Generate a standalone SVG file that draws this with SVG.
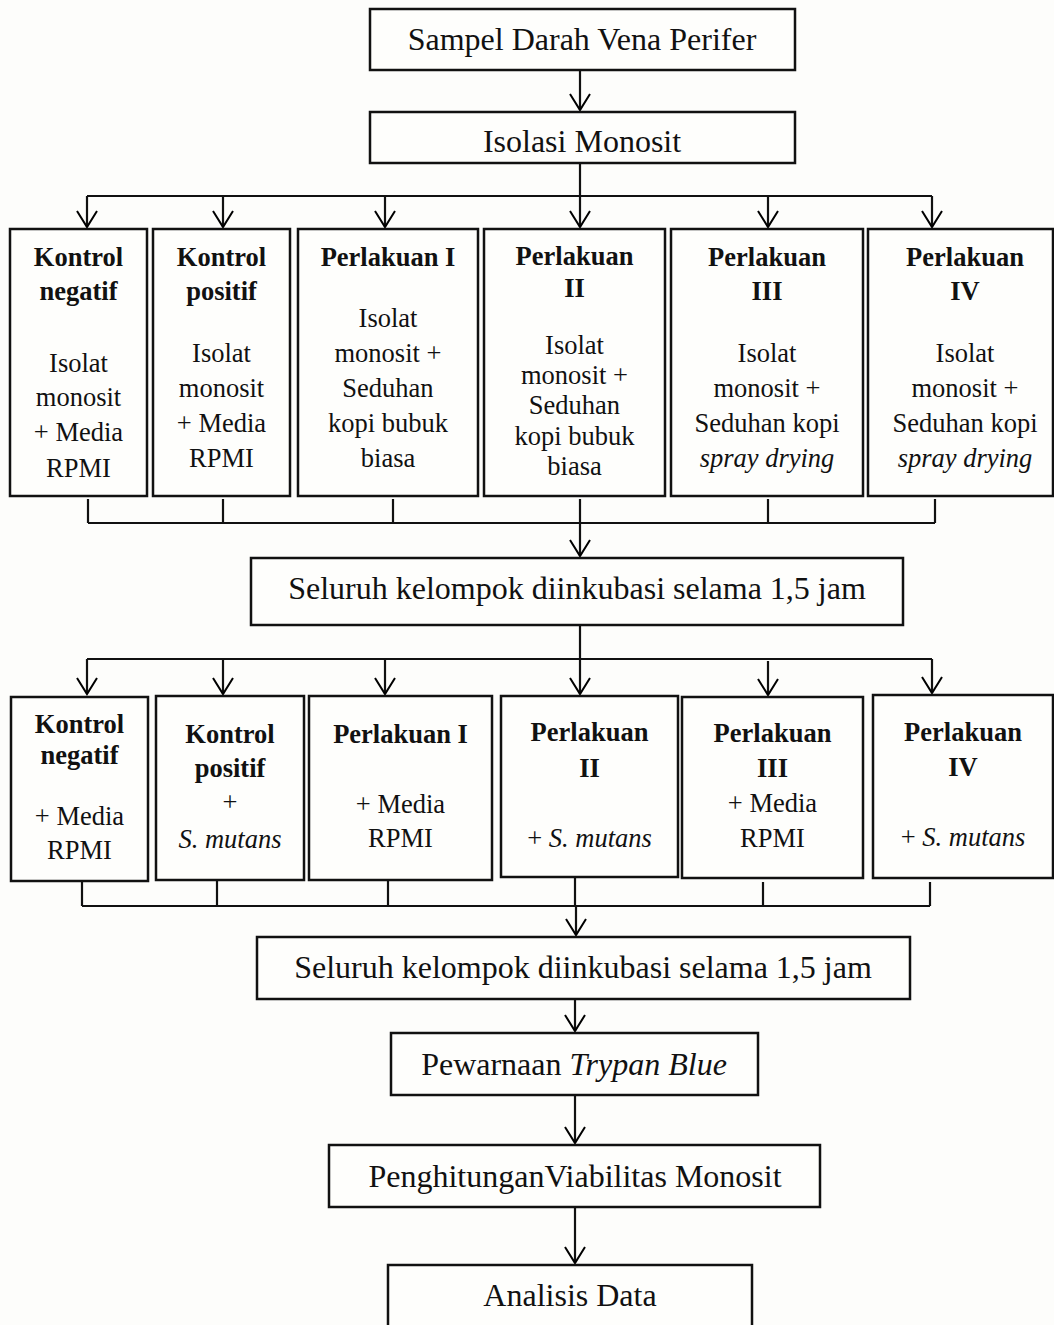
<svg xmlns="http://www.w3.org/2000/svg" width="1054" height="1325" viewBox="0 0 1054 1325">
<defs>
<marker id="arr" viewBox="-18 -12 20 24" refX="0" refY="0" markerWidth="20" markerHeight="24" markerUnits="userSpaceOnUse" orient="auto">
<path d="M-16,-10 L0,0 L-16,10" fill="none" stroke="#000" stroke-width="2"/>
</marker>
<style>
.box{fill:#fefefc;stroke:#111;stroke-width:2.5}
.ln{fill:none;stroke:#111;stroke-width:2.2}
.ar{fill:none;stroke:#111;stroke-width:2.2;marker-end:url(#arr)}
text{font-family:"Liberation Serif","Times New Roman",serif;fill:#111;text-anchor:middle}
.big{font-size:32px}
.sm{font-size:26.5px}
.b{font-weight:bold}
.i{font-style:italic}
</style>
</defs>
<rect x="0" y="0" width="1054" height="1325" fill="#fdfdfb"/>

<g id="connectors">
<line class="ar" x1="580" y1="70" x2="580" y2="110"/>
<line class="ln" x1="580" y1="163" x2="580" y2="196"/>
<polyline class="ln" points="87,196 932,196"/>
<line class="ar" x1="87" y1="196" x2="87" y2="227"/>
<line class="ar" x1="223" y1="196" x2="223" y2="227"/>
<line class="ar" x1="385" y1="196" x2="385" y2="227"/>
<line class="ar" x1="580" y1="196" x2="580" y2="227"/>
<line class="ar" x1="768" y1="196" x2="768" y2="227"/>
<line class="ar" x1="932" y1="196" x2="932" y2="227"/>
<line class="ln" x1="88" y1="499" x2="88" y2="523"/>
<line class="ln" x1="223" y1="499" x2="223" y2="523"/>
<line class="ln" x1="393" y1="499" x2="393" y2="523"/>
<line class="ln" x1="580" y1="499" x2="580" y2="523"/>
<line class="ln" x1="768" y1="499" x2="768" y2="523"/>
<line class="ln" x1="935" y1="499" x2="935" y2="523"/>
<polyline class="ln" points="88,523 935,523"/>
<line class="ar" x1="580" y1="523" x2="580" y2="556"/>
<line class="ln" x1="580" y1="625" x2="580" y2="659"/>
<polyline class="ln" points="87,659 932,659"/>
<line class="ar" x1="87" y1="659" x2="87" y2="694"/>
<line class="ar" x1="223" y1="659" x2="223" y2="694"/>
<line class="ar" x1="385" y1="659" x2="385" y2="694"/>
<line class="ar" x1="580" y1="659" x2="580" y2="694"/>
<line class="ar" x1="768" y1="661" x2="768" y2="695"/>
<line class="ar" x1="932" y1="659" x2="932" y2="693"/>
<line class="ln" x1="82" y1="882" x2="82" y2="906"/>
<line class="ln" x1="217" y1="880" x2="217" y2="906"/>
<line class="ln" x1="388" y1="881" x2="388" y2="906"/>
<line class="ln" x1="575" y1="878" x2="575" y2="906"/>
<line class="ln" x1="763" y1="882" x2="763" y2="906"/>
<line class="ln" x1="930" y1="882" x2="930" y2="906"/>
<polyline class="ln" points="82,906 930,906"/>
<line class="ar" x1="576" y1="906" x2="576" y2="935"/>
<line class="ar" x1="575" y1="999" x2="575" y2="1031"/>
<line class="ar" x1="575" y1="1095" x2="575" y2="1143"/>
<line class="ar" x1="575" y1="1207" x2="575" y2="1263"/>
</g>

<g id="sampel">
<rect class="box" x="370" y="9" width="425" height="61"/>
<text class="big" x="582" y="50">Sampel Darah Vena Perifer</text>
</g>
<g id="isolasi">
<rect class="box" x="370" y="112" width="425" height="51"/>
<text class="big" x="582" y="152">Isolasi Monosit</text>
</g>

<g id="r1-kontrol-negatif">
<rect class="box" x="10" y="229" width="137" height="267"/>
<text class="sm b" x="78.5" y="266">Kontrol</text>
<text class="sm b" x="78.5" y="300">negatif</text>
<text class="sm" x="78.5" y="372">Isolat</text>
<text class="sm" x="78.5" y="406">monosit</text>
<text class="sm" x="78.5" y="441">+ Media</text>
<text class="sm" x="78.5" y="477">RPMI</text>
</g>
<g id="r1-kontrol-positif">
<rect class="box" x="153" y="229" width="137" height="267"/>
<text class="sm b" x="221.5" y="266">Kontrol</text>
<text class="sm b" x="221.5" y="300">positif</text>
<text class="sm" x="221.5" y="362">Isolat</text>
<text class="sm" x="221.5" y="397">monosit</text>
<text class="sm" x="221.5" y="432">+ Media</text>
<text class="sm" x="221.5" y="467">RPMI</text>
</g>
<g id="r1-perlakuan-1">
<rect class="box" x="298" y="229" width="180" height="267"/>
<text class="sm b" x="388" y="266">Perlakuan I</text>
<text class="sm" x="388" y="327">Isolat</text>
<text class="sm" x="388" y="362">monosit +</text>
<text class="sm" x="388" y="397">Seduhan</text>
<text class="sm" x="388" y="432">kopi bubuk</text>
<text class="sm" x="388" y="467">biasa</text>
</g>
<g id="r1-perlakuan-2">
<rect class="box" x="484" y="229" width="181" height="267"/>
<text class="sm b" x="574.5" y="265">Perlakuan</text>
<text class="sm b" x="574.5" y="297">II</text>
<text class="sm" x="574.5" y="354">Isolat</text>
<text class="sm" x="574.5" y="384">monosit +</text>
<text class="sm" x="574.5" y="414">Seduhan</text>
<text class="sm" x="574.5" y="445">kopi bubuk</text>
<text class="sm" x="574.5" y="475">biasa</text>
</g>
<g id="r1-perlakuan-3">
<rect class="box" x="671" y="229" width="192" height="267"/>
<text class="sm b" x="767" y="266">Perlakuan</text>
<text class="sm b" x="767" y="300">III</text>
<text class="sm" x="767" y="362">Isolat</text>
<text class="sm" x="767" y="397">monosit +</text>
<text class="sm" x="767" y="432">Seduhan kopi</text>
<text class="sm i" x="767" y="467">spray drying</text>
</g>
<g id="r1-perlakuan-4">
<rect class="box" x="868" y="229" width="185" height="267"/>
<text class="sm b" x="965" y="266">Perlakuan</text>
<text class="sm b" x="965" y="300">IV</text>
<text class="sm" x="965" y="362">Isolat</text>
<text class="sm" x="965" y="397">monosit +</text>
<text class="sm" x="965" y="432">Seduhan kopi</text>
<text class="sm i" x="965" y="467">spray drying</text>
</g>

<g id="inkubasi-1">
<rect class="box" x="251" y="558" width="652" height="67"/>
<text class="big" x="577" y="599">Seluruh kelompok diinkubasi selama 1,5 jam</text>
</g>

<g id="r2-kontrol-negatif">
<rect class="box" x="11" y="697" width="137" height="184"/>
<text class="sm b" x="79.5" y="733">Kontrol</text>
<text class="sm b" x="79.5" y="764">negatif</text>
<text class="sm" x="79.5" y="825">+ Media</text>
<text class="sm" x="79.5" y="859">RPMI</text>
</g>
<g id="r2-kontrol-positif">
<rect class="box" x="156" y="696" width="148" height="184"/>
<text class="sm b" x="230" y="743">Kontrol</text>
<text class="sm b" x="230" y="777">positif</text>
<text class="sm" x="230" y="811">+</text>
<text class="sm i" x="230" y="848">S. mutans</text>
</g>
<g id="r2-perlakuan-1">
<rect class="box" x="309" y="696" width="183" height="184"/>
<text class="sm b" x="400.5" y="743">Perlakuan I</text>
<text class="sm" x="400.5" y="813">+ Media</text>
<text class="sm" x="400.5" y="847">RPMI</text>
</g>
<g id="r2-perlakuan-2">
<rect class="box" x="501" y="696" width="177" height="181"/>
<text class="sm b" x="589.5" y="741">Perlakuan</text>
<text class="sm b" x="589.5" y="777">II</text>
<text class="sm" x="589.5" y="847">+ <tspan class="i">S. mutans</tspan></text>
</g>
<g id="r2-perlakuan-3">
<rect class="box" x="682" y="697" width="181" height="181"/>
<text class="sm b" x="772.5" y="742">Perlakuan</text>
<text class="sm b" x="772.5" y="777">III</text>
<text class="sm" x="772.5" y="812">+ Media</text>
<text class="sm" x="772.5" y="847">RPMI</text>
</g>
<g id="r2-perlakuan-4">
<rect class="box" x="873" y="695" width="180" height="183"/>
<text class="sm b" x="963" y="741">Perlakuan</text>
<text class="sm b" x="963" y="776">IV</text>
<text class="sm" x="963" y="846">+ <tspan class="i">S. mutans</tspan></text>
</g>

<g id="inkubasi-2">
<rect class="box" x="257" y="937" width="653" height="62"/>
<text class="big" x="583" y="978">Seluruh kelompok diinkubasi selama 1,5 jam</text>
</g>
<g id="pewarnaan">
<rect class="box" x="391" y="1033" width="367" height="62"/>
<text class="big" x="574" y="1075">Pewarnaan <tspan class="i">Trypan Blue</tspan></text>
</g>
<g id="penghitungan">
<rect class="box" x="329" y="1145" width="491" height="62"/>
<text class="big" x="575" y="1187">PenghitunganViabilitas Monosit</text>
</g>
<g id="analisis">
<rect class="box" x="388" y="1265" width="364" height="70"/>
<text class="big" x="570" y="1306">Analisis Data</text>
</g>
</svg>
